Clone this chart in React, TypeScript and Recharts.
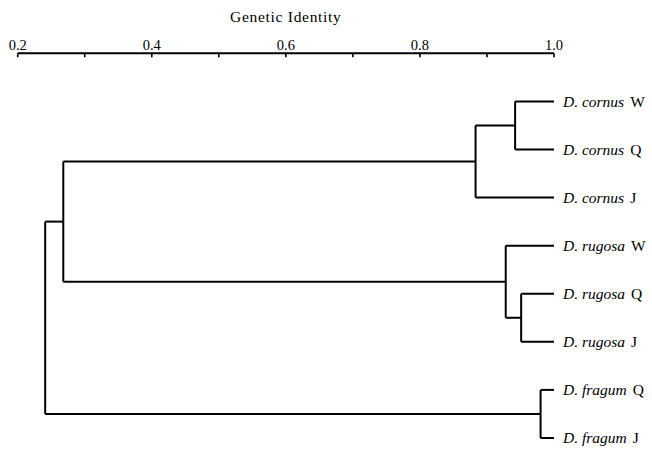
import { ComposedChart, ReferenceLine, XAxis, YAxis, Label } from "recharts"

// leaves, top to bottom
const leafSpecies = ["D. cornus", "D. cornus", "D. cornus", "D. rugosa", "D. rugosa", "D. rugosa", "D. fragum", "D. fragum"]
const leafPop = ["W", "Q", "J", "W", "Q", "J", "Q", "J"]

// clustering steps: ids 0-7 are leaves, each merge makes a new id (8, 9, ...)
const mergePairs: [number, number][] = [
  [0, 1], // 8  cornus W + Q
  [8, 2], // 9  cornus
  [4, 5], // 10 rugosa Q + J
  [3, 10], // 11 rugosa
  [6, 7], // 12 fragum
  [9, 11], // 13 cornus + rugosa
  [13, 12], // 14 root
]
const mergeIdentity = [0.942, 0.883, 0.951, 0.928, 0.98, 0.268, 0.241]

const identityTicks = [0.2, 0.3, 0.4, 0.5, 0.6, 0.7, 0.8, 0.9, 1.0]
const labelledTicks = [0.2, 0.4, 0.6, 0.8, 1.0]

const FONT = '"Liberation Serif", "Times New Roman", serif'
const INK = "#000"

type Seg = { x1: number; y1: number; x2: number; y2: number }

function buildSegments(): Seg[] {
  const nx: number[] = leafSpecies.map(() => 1.0)
  const ny: number[] = leafSpecies.map((_, i) => i)
  const segs: Seg[] = []
  mergePairs.forEach(([a, b], k) => {
    const x = mergeIdentity[k]
    // vertical bar joining the two children
    segs.push({ x1: x, y1: ny[a], x2: x, y2: ny[b] })
    segs.push({ x1: x, y1: ny[a], x2: nx[a], y2: ny[a] })
    segs.push({ x1: x, y1: ny[b], x2: nx[b], y2: ny[b] })
    nx.push(x)
    ny.push((ny[a] + ny[b]) / 2)
  })
  return segs
}

const TopTick = (props: any) => {
  const { x, y, payload } = props
  const v = Math.round(payload.value * 10) / 10
  const show = labelledTicks.some((t) => Math.abs(t - v) < 1e-6)
  return (
    <g>
      <line x1={x} x2={x} y1={y} y2={y + 4} stroke={INK} strokeWidth={1.6} />
      {show && (
        <text x={x} y={y - 3.5} textAnchor="middle" fontFamily={FONT} fontSize={14.5} fill={INK}>
          {v.toFixed(1)}
        </text>
      )}
    </g>
  )
}

const LeafTick = (props: any) => {
  const { x, y, payload } = props
  const i = payload.value
  if (i < 0 || i >= leafSpecies.length) return null
  return (
    <text x={x + 9} y={y} dy="0.35em" fontFamily={FONT} fontSize={15.5} fill={INK}>
      <tspan fontStyle="italic">{leafSpecies[i]}</tspan>
      <tspan dx={6}>{leafPop[i]}</tspan>
    </text>
  )
}

export default function App() {
  const segs = buildSegments()
  return (
    <div style={{ position: "absolute", left: 0, top: 0, width: 652, height: 451, background: "#fff" }}>
      <ComposedChart width={652} height={451} margin={{ top: 0, right: 0, bottom: 1, left: 17.7 }}>
        <XAxis
          type="number"
          dataKey="x"
          orientation="top"
          domain={[0.2, 1.0]}
          ticks={identityTicks}
          interval={0}
          height={53.3}
          tickSize={0}
          tickMargin={0}
          tickLine={false}
          axisLine={{ stroke: INK, strokeWidth: 2 }}
          tick={<TopTick />}
          allowDataOverflow
        >
          <Label
            content={(p: any) => {
              const vb = p.viewBox
              return (
                <text
                  x={vb.x + vb.width / 2}
                  y={22}
                  textAnchor="middle"
                  fontFamily={FONT}
                  fontSize={15.5}
                  letterSpacing={0.7}
                  fill={INK}
                >
                  Genetic Identity
                </text>
              )
            }}
          />
        </XAxis>
        <YAxis
          type="number"
          dataKey="y"
          orientation="right"
          reversed
          domain={[-1, 7.25]}
          ticks={leafSpecies.map((_, i) => i)}
          interval={0}
          width={98}
          tickSize={0}
          tickMargin={0}
          tickLine={false}
          axisLine={false}
          tick={<LeafTick />}
          allowDataOverflow
        />
        {segs.map((s, i) => (
          <ReferenceLine
            key={i}
            segment={[
              { x: s.x1, y: s.y1 },
              { x: s.x2, y: s.y2 },
            ]}
            stroke={INK}
            strokeWidth={2}
            ifOverflow="visible"
          />
        ))}
      </ComposedChart>
    </div>
  )
}
